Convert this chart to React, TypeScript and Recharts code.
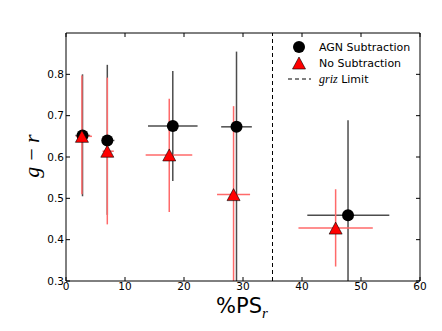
import { ScatterChart, Scatter, XAxis, YAxis, ErrorBar, ReferenceLine, Legend, Label } from 'recharts';

// AGN subtraction (black circles)
const xAgn = [2.8, 7.0, 18.1, 28.9, 47.8];
const yAgn = [0.652, 0.64, 0.675, 0.673, 0.459];
const agnXLow = [1.6, 6.1, 13.9, 26.3, 40.9];
const agnXHigh = [4.1, 8.2, 22.3, 31.5, 54.8];
const agnYLow = [0.505, 0.46, 0.542, 0.3, 0.3];
const agnYHigh = [0.8, 0.823, 0.808, 0.855, 0.689];

// no subtraction (red triangles)
const xNo = [2.7, 7.0, 17.5, 28.4, 45.7];
const yNo = [0.65, 0.614, 0.605, 0.509, 0.428];
const noXLow = [1.7, 6.2, 13.5, 25.6, 39.4];
const noXHigh = [4.4, 8.1, 21.4, 31.2, 52.0];
const noYLow = [0.51, 0.437, 0.467, 0.3, 0.335];
const noYHigh = [0.797, 0.792, 0.741, 0.723, 0.522];

const xTicks = [0, 10, 20, 30, 40, 50, 60];
const yTicks = [0.3, 0.4, 0.5, 0.6, 0.7, 0.8];
const griz = 35;

const agnData = xAgn.map((x, i) => ({
  x,
  y: yAgn[i],
  ex: [x - agnXLow[i], agnXHigh[i] - x],
  ey: [yAgn[i] - agnYLow[i], agnYHigh[i] - yAgn[i]],
}));
const noData = xNo.map((x, i) => ({
  x,
  y: yNo[i],
  ex: [x - noXLow[i], noXHigh[i] - x],
  ey: [yNo[i] - noYLow[i], noYHigh[i] - yNo[i]],
}));

const font = 'DejaVu Sans';

const Dot = (p: any) => <circle cx={p.cx} cy={p.cy} r={6} fill="#000" />;
const Tri = (p: any) => (
  <polygon
    points={`${p.cx},${p.cy - 6} ${p.cx - 6.5},${p.cy + 6} ${p.cx + 6.5},${p.cy + 6}`}
    fill="#ff0000"
    stroke="#000"
    strokeWidth={0.6}
  />
);
const Nothing = () => <g />;

const LegendBox = () => (
  <svg width={140} height={52} style={{ display: 'block' }}>
    <circle cx={14} cy={9} r={6} fill="#000" />
    <polygon points="14,19 7.5,31 20.5,31" fill="#ff0000" stroke="#000" strokeWidth={0.6} />
    <line x1={3} y1={41} x2={26} y2={41} stroke="#000" strokeDasharray="4 3" />
    <text x={34} y={9} dominantBaseline="central" fontFamily={font} fontSize={11}>AGN Subtraction</text>
    <text x={34} y={25} dominantBaseline="central" fontFamily={font} fontSize={11}>No Subtraction</text>
    <text x={34} y={41} dominantBaseline="central" fontFamily={font} fontSize={11}>
      <tspan fontFamily="Liberation Serif" fontStyle="italic" fontSize={12}>griz</tspan> Limit
    </text>
  </svg>
);

export default function App() {
  return (
    <div style={{ position: 'absolute', left: 0, top: 0 }}>
      <ScatterChart width={442} height={331} margin={{ top: 32, right: 21, bottom: 0, left: 0 }}>
        <XAxis
          type="number"
          dataKey="x"
          domain={[0, 60]}
          ticks={xTicks}
          height={50}
          tickSize={-4}
          tickMargin={6}
          axisLine={{ stroke: '#000' }}
          tickLine={{ stroke: '#000' }}
          tick={{ fill: '#000', fontSize: 10.5, fontFamily: font }}
          allowDataOverflow
        >
          <Label
            content={() => (
              <text x={242} y={313} textAnchor="middle" fontFamily={font} fontSize={21} fill="#000">
                %PS
                <tspan fontFamily="Liberation Serif" fontStyle="italic" fontSize={15} dy={5}>r</tspan>
              </text>
            )}
          />
        </XAxis>
        <XAxis
          xAxisId="top"
          orientation="top"
          type="number"
          dataKey="x"
          domain={[0, 60]}
          ticks={xTicks}
          height={1}
          tickSize={-4}
          tick={Nothing}
          axisLine={{ stroke: '#000' }}
          tickLine={{ stroke: '#000' }}
          allowDataOverflow
        />
        <YAxis
          type="number"
          dataKey="y"
          domain={[0.3, 0.9]}
          ticks={yTicks}
          width={66}
          tickSize={-4}
          tickMargin={6}
          axisLine={{ stroke: '#000' }}
          tickLine={{ stroke: '#000' }}
          tick={{ fill: '#000', fontSize: 10.5, fontFamily: font }}
          allowDataOverflow
        >
          <Label
            content={() => (
              <text
                x={39}
                y={156}
                transform="rotate(-90 39 156)"
                textAnchor="middle"
                fontFamily="Liberation Serif"
                fontStyle="italic"
                fontSize={22}
                fill="#000"
              >
                g{'\u2009'}−{'\u2009'}r
              </text>
            )}
          />
        </YAxis>
        <YAxis
          yAxisId="right"
          orientation="right"
          type="number"
          dataKey="y"
          domain={[0.3, 0.9]}
          ticks={yTicks}
          width={1}
          tickSize={-4}
          tick={Nothing}
          axisLine={{ stroke: '#000' }}
          tickLine={{ stroke: '#000' }}
          allowDataOverflow
        />
        <ReferenceLine x={griz} stroke="#000" strokeDasharray="4 3" strokeWidth={1} />
        {/* hidden series so the frame axes on top/right get drawn */}
        <Scatter xAxisId="top" yAxisId="right" data={agnData} shape={Nothing} isAnimationActive={false} legendType="none" />
        <Scatter name="AGN Subtraction" data={agnData} shape={Dot} isAnimationActive={false}>
          <ErrorBar dataKey="ey" direction="y" width={0} stroke="#4d4d4d" strokeWidth={1.5} />
          <ErrorBar dataKey="ex" direction="x" width={0} stroke="#4d4d4d" strokeWidth={1.5} />
        </Scatter>
        <Scatter name="No Subtraction" data={noData} shape={Tri} isAnimationActive={false}>
          <ErrorBar dataKey="ey" direction="y" width={0} stroke="#ff6a6a" strokeWidth={1.5} />
          <ErrorBar dataKey="ex" direction="x" width={0} stroke="#ff6a6a" strokeWidth={1.5} />
        </Scatter>
        <Legend
          layout="vertical"
          align="center"
          verticalAlign="middle"
          content={() => <LegendBox />}
          wrapperStyle={{ left: 285, top: 38, width: 140 }}
        />
      </ScatterChart>
    </div>
  );
}
